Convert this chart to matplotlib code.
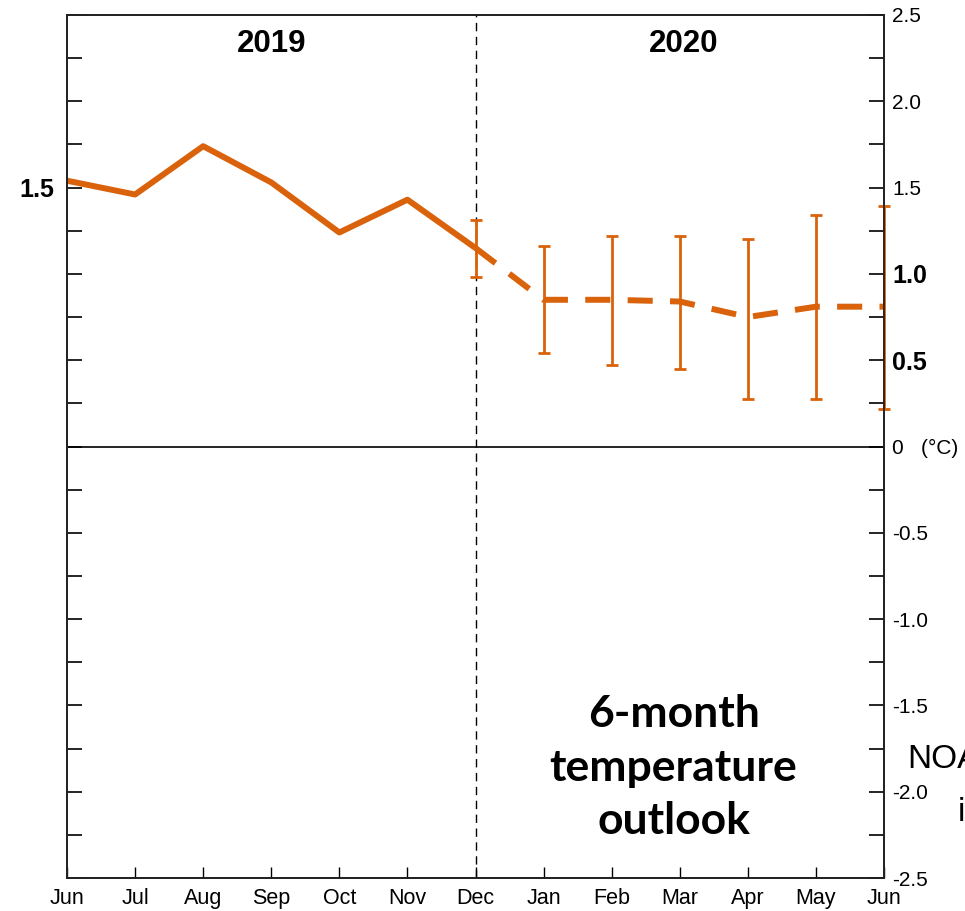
import numpy as np
import matplotlib
matplotlib.use("Agg")
import matplotlib.pyplot as plt
from matplotlib.ticker import MultipleLocator

# observed anomaly, Jun 2019 .. Dec 2019
months = ["Jun", "Jul", "Aug", "Sep", "Oct", "Nov", "Dec",
          "Jan", "Feb", "Mar", "Apr", "May", "Jun"]
observed = [1.54, 1.46, 1.74, 1.53, 1.24, 1.43, 1.15]

# outlook, Dec 2019 .. Jun 2020
outlook = [1.15, 0.85, 0.85, 0.84, 0.75, 0.81, 0.81]
outlook_hi = [1.31, 1.16, 1.22, 1.22, 1.20, 1.34, 1.395]
outlook_lo = [0.98, 0.54, 0.47, 0.45, 0.275, 0.275, 0.22]

right_ticks = [2.5, 2.0, 1.5, 1.0, 0.5, 0.0, -0.5, -1.0, -1.5, -2.0, -2.5]
right_labels = ["2.5", "2.0", "1.5", "1.0", "0.5", "0   (°C)",
                "-0.5", "-1.0", "-1.5", "-2.0", "-2.5"]
bold_right = ["1.0", "0.5"]

orange = "#d9620b"
sans = ["Liberation Sans", "DejaVu Sans"]

fig = plt.figure(figsize=(9.65, 9.11), dpi=100)
ax = fig.add_axes([67/965, 33/911, 817/965, 863/911])

x_obs = np.arange(len(observed))
x_out = np.arange(len(observed) - 1, len(months))

ax.plot(x_obs, observed, color=orange, lw=4.3, solid_capstyle="butt", zorder=3)
ax.plot(x_out, outlook, color=orange, lw=4.3, dashes=(4.2, 2.9), zorder=3)
err = [np.array(outlook) - np.array(outlook_lo), np.array(outlook_hi) - np.array(outlook)]
ax.errorbar(x_out, outlook, yerr=err, fmt="none", ecolor=orange, elinewidth=2,
            capsize=4.5, capthick=2, zorder=4, clip_on=False)

ax.axhline(0, color="black", lw=1.2)
ax.axvline(6, color="black", lw=1, dashes=(6, 4))

ax.set_xlim(0, len(months) - 1)
ax.set_ylim(-2.5, 2.5)

# x axis
ax.set_xticks(np.arange(len(months)))
ax.set_xticklabels(months, family=sans, fontsize=15.5)
ax.tick_params(axis="x", direction="in", length=8, width=1, pad=7, top=False)

# left axis: only 1.5 labelled
ax.set_yticks([1.5])
ax.set_yticklabels(["1.5"], fontsize=18, fontweight="bold", family=sans)
ax.yaxis.set_minor_locator(MultipleLocator(0.25))
ax.tick_params(axis="y", which="both", direction="in", length=11, width=1.2, pad=9)

# right axis
ax2 = ax.twinx()
ax2.set_ylim(-2.5, 2.5)
ax2.set_yticks(right_ticks)
ax2.set_yticklabels(right_labels, fontsize=15, family=sans)
for t in ax2.get_yticklabels():
    if t.get_text() in bold_right:
        t.set_fontweight("bold")
        t.set_fontsize(18)
ax2.yaxis.set_minor_locator(MultipleLocator(0.25))
ax2.tick_params(axis="y", which="both", direction="in", length=11, width=1.2, pad=6)

for a in (ax, ax2):
    for s in a.spines.values():
        s.set_linewidth(1.3)
        s.set_color("#222222")

ax.text(3, 2.33, "2019", ha="center", va="center", fontsize=22.5,
        fontweight="bold", family=sans)
ax.text(9.05, 2.33, "2020", ha="center", va="center", fontsize=22.5,
        fontweight="bold", family=sans)

ax.text(8.91, -1.86, "6-month\ntemperature\noutlook", ha="center", va="center",
        fontsize=32, fontweight="bold", family=["Lato", "DejaVu Sans"],
        linespacing=1.42)

fig.text(907/965, 1 - 768/911, "NOAA", fontsize=24, family=sans, va="baseline")
fig.text(958/965, 1 - 821/911, "i", fontsize=24, family=sans, va="baseline")

fig.savefig("out.png", dpi=100)
